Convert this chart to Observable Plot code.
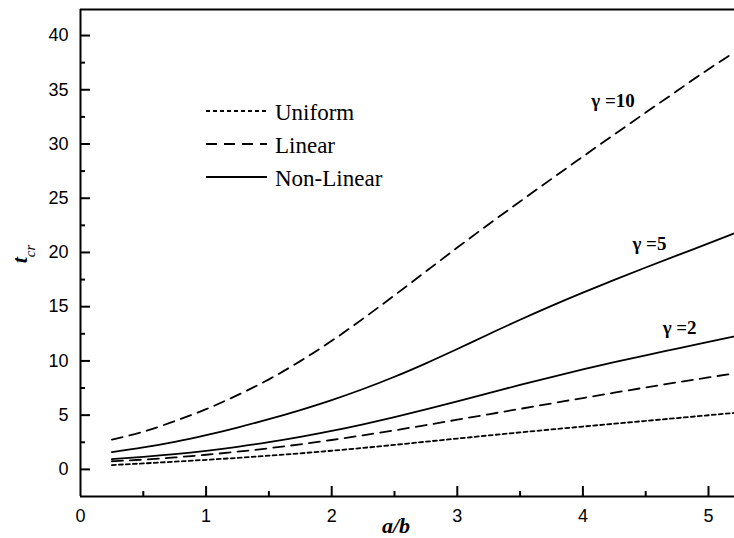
<!DOCTYPE html>
<html><head><meta charset="utf-8">
<script src="https://cdn.jsdelivr.net/npm/d3@7"></script>
<script src="https://cdn.jsdelivr.net/npm/@observablehq/plot@0.6"></script>
<style>html,body{margin:0;padding:0;background:#fff} svg{display:block}</style>
</head><body><div id="chart"></div>
<script>
// a/b values (x)
const ab = [0.25,0.5,0.75,1.0,1.25,1.5,1.75,2.0,2.25,2.5,2.75,3.0,3.25,3.5,3.75,4.0,4.25,4.5,4.75,5.0,5.2];
// t_cr series
const uniform   = [0.40,0.55,0.71,0.88,1.06,1.26,1.48,1.72,1.98,2.26,2.55,2.84,3.13,3.41,3.68,3.95,4.21,4.47,4.73,4.99,5.20];
const linearG2  = [0.75,0.90,1.10,1.35,1.63,1.95,2.31,2.71,3.14,3.60,4.08,4.58,5.08,5.58,6.08,6.58,7.07,7.55,8.02,8.48,8.84];
const linearG10 = [2.75,3.47,4.45,5.55,6.85,8.30,9.98,11.85,13.90,16.05,18.25,20.45,22.60,24.70,26.78,28.84,30.88,32.90,34.90,36.90,38.40];
const nonlinG2  = [0.95,1.15,1.40,1.71,2.08,2.51,3.00,3.55,4.16,4.82,5.53,6.27,7.03,7.79,8.51,9.21,9.88,10.52,11.14,11.76,12.25];
const nonlinG5  = [1.60,2.02,2.54,3.16,3.86,4.63,5.47,6.39,7.41,8.54,9.78,11.10,12.46,13.80,15.08,16.30,17.47,18.61,19.73,20.83,21.73];

const xMajor = [0,1,2,3,4,5];
const xMinor = [0.5,1.5,2.5,3.5,4.5];
const yMajor = [0,5,10,15,20,25,30,35,40];
const yMinor = [2.5,7.5,12.5,17.5,22.5,27.5,32.5,37.5];
const xDomain = [0, 5.207];
const yDomain = [-2.5, 42.4];

const gammaLabels = ["γ =10", "γ =5", "γ =2"];
const gammaX = [4.24, 4.53, 4.77];
const gammaY = [34.0, 20.8, 13.0];

const legendNames = ["Uniform", "Linear", "Non-Linear"];
const legendDash = ["4,3", "11,7", null];

const toRows = (ys) => ab.map((x, i) => ({x, y: ys[i]}));
const gammaRows = gammaLabels.map((t, i) => ({t, x: gammaX[i], y: gammaY[i]}));

const SANS = "'Liberation Sans', Arial, Helvetica, sans-serif";
const SERIF = "'Liberation Serif', 'Times New Roman', Times, serif";
const LW = 1.8;

const W = 734, H = 538, ML = 80, MR = 0, MT = 9, MB = 42;
const frameW = W - ML - MR, frameH = H - MT - MB;

// inward ticks: full-frame ticks shortened by insets
const xTicks = (vals, len) => Plot.tickX(vals, {x: d => d, insetTop: frameH - len, stroke: "#000", strokeWidth: 2});
const yTicks = (vals, len) => Plot.tickY(vals, {y: d => d, insetRight: frameW - len, stroke: "#000", strokeWidth: 2});

const plot = Plot.plot({
  width: W,
  height: H,
  marginLeft: ML,
  marginRight: MR,
  marginTop: MT,
  marginBottom: MB,
  style: {fontFamily: SANS, background: "#fff", color: "#000", overflow: "visible"},
  x: {domain: xDomain},
  y: {domain: yDomain},
  marks: [
    Plot.line(toRows(uniform), {x: "x", y: "y", stroke: "#000", strokeWidth: LW, strokeDasharray: legendDash[0], curve: "monotone-x"}),
    Plot.line(toRows(linearG2), {x: "x", y: "y", stroke: "#000", strokeWidth: LW, strokeDasharray: legendDash[1], curve: "monotone-x"}),
    Plot.line(toRows(linearG10), {x: "x", y: "y", stroke: "#000", strokeWidth: LW, strokeDasharray: legendDash[1], curve: "monotone-x"}),
    Plot.line(toRows(nonlinG2), {x: "x", y: "y", stroke: "#000", strokeWidth: LW, curve: "monotone-x"}),
    Plot.line(toRows(nonlinG5), {x: "x", y: "y", stroke: "#000", strokeWidth: LW, curve: "monotone-x"}),
    Plot.text(gammaRows, {x: "x", y: "y", text: "t", fontFamily: SERIF, fontWeight: "bold", fontSize: 19, fill: "#000", textAnchor: "middle"}),
    // axes: labels
    Plot.axisX({ticks: xMajor, tickSize: 0, tickPadding: 13, fontSize: 18, tickFormat: d => `${d}`, label: null, anchor: "bottom"}),
    Plot.axisY({ticks: yMajor, tickSize: 0, tickPadding: 12, fontSize: 18, tickFormat: d => `${d}`, label: null, anchor: "left"}),
    // inward ticks
    xTicks(xMajor.filter(d => d > 0), 10),
    xTicks(xMinor, 5),
    yTicks(yMajor, 10),
    yTicks(yMinor, 5),
    // frame lines
    Plot.ruleX([xDomain[0]], {stroke: "#000", strokeWidth: 2}),
    Plot.ruleY([yDomain[0]], {stroke: "#000", strokeWidth: 2}),
    Plot.ruleY([yDomain[1]], {stroke: "#000", strokeWidth: 2})
  ]
});

document.getElementById("chart").appendChild(plot);
const svg = d3.select(plot);

// Legend
const leg = svg.append("g").attr("class", "legend");
legendNames.forEach((name, i) => {
  const yy = 111 + i * 33;
  leg.append("line").attr("x1", 206).attr("x2", 267).attr("y1", yy).attr("y2", yy)
    .attr("stroke", "#000").attr("stroke-width", LW)
    .attr("stroke-dasharray", legendDash[i]);
  leg.append("text").attr("x", 275).attr("y", yy + 9).attr("text-anchor", "start")
    .attr("font-family", SERIF).attr("font-size", 23).attr("fill", "#000").text(name);
});

// x axis label
svg.append("text").attr("x", 396).attr("y", 533).attr("text-anchor", "middle")
  .attr("font-family", SERIF).attr("font-size", 22).attr("font-weight", "bold").attr("font-style", "italic")
  .attr("fill", "#000").text("a/b");

// y axis label with subscript
const yl = svg.append("text").attr("transform", "translate(27,254) rotate(-90)").attr("text-anchor", "middle")
  .attr("font-family", SERIF).attr("fill", "#000");
yl.append("tspan").attr("font-size", 22).attr("font-weight", "bold").attr("font-style", "italic").text("t");
yl.append("tspan").attr("font-size", 15).attr("font-style", "italic").attr("dy", 8).text("cr");
</script>
</body></html>
